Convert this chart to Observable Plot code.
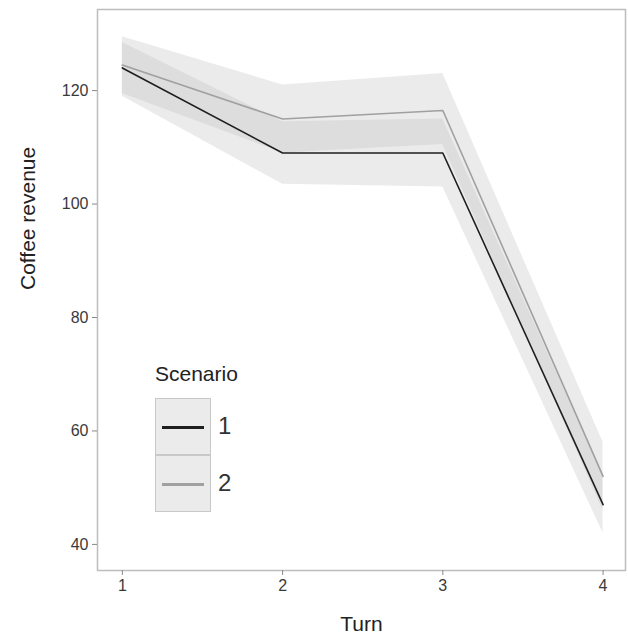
<!DOCTYPE html>
<html>
<head>
<meta charset="utf-8">
<script src="https://cdn.jsdelivr.net/npm/d3@7"></script>
<script src="https://cdn.jsdelivr.net/npm/@observablehq/plot@0.6"></script>
<style>
  html, body { margin: 0; padding: 0; background: #fff; }
  #wrap { position: relative; width: 628px; height: 641px; font-family: "Liberation Sans", Arial, sans-serif; }
  #legend { position: absolute; left: 153px; top: 362px; }
  #legend .title { font-size: 21px; color: #222; margin-left: 2px; }
  #legend .key { position: absolute; left: 2px; width: 56px; height: 57px; background: #ebebeb; border: 1px solid #c8c8c8; box-sizing: border-box; }
  #legend .lab { position: absolute; left: 65px; font-size: 24px; color: #333; }
</style>
</head>
<body>
<div id="wrap"></div>
<script>
const turns = [1, 2, 3, 4];
const scenarios = ["1", "2"];
const revenue1 = [124, 109, 109, 47];
const revenue2 = [124.5, 115, 116.5, 52];
const lower1 = [119, 103.5, 103, 42];
const upper1 = [128.5, 114.5, 115, 52];
const lower2 = [119.5, 109, 110.5, 46];
const upper2 = [129.5, 121, 123, 58];
const xTicks = [1, 2, 3, 4];
const yTicks = [40, 60, 80, 100, 120];
const colors = ["#1f1f1f", "#a0a0a0"];

const rows = [];
turns.forEach((t, i) => {
  rows.push({turn: t, scenario: scenarios[0], value: revenue1[i], lo: lower1[i], hi: upper1[i]});
  rows.push({turn: t, scenario: scenarios[1], value: revenue2[i], lo: lower2[i], hi: upper2[i]});
});

const chart = Plot.plot({
  width: 628,
  height: 641,
  marginLeft: 97,
  marginTop: 9,
  marginRight: 3,
  marginBottom: 71,
  style: {fontFamily: "Liberation Sans, Arial, sans-serif", background: "#fff"},
  x: {domain: [0.845, 4.14], ticks: xTicks, tickFormat: d => String(d), label: null, tickSize: 5},
  y: {domain: [35.4, 134.3], ticks: yTicks, label: null, tickSize: 5},
  color: {domain: scenarios, range: colors},
  marks: [
    Plot.areaY(rows, {x: "turn", y1: "lo", y2: "hi", z: "scenario", fill: "#bcbcbc", fillOpacity: 0.3}),
    Plot.line(rows, {x: "turn", y: "value", z: "scenario", stroke: "scenario", strokeWidth: 1.6}),
    Plot.frame({stroke: "#bdbdbd", strokeWidth: 1.5}),
    Plot.axisX({ticks: xTicks, tickFormat: d => String(d), tickSize: 5, stroke: "#888", fontSize: 16, fill: "#3a3a3a", tickPadding: 4, label: null}),
    Plot.axisY({ticks: yTicks, tickSize: 5, stroke: "#888", fontSize: 16, fill: "#3a3a3a", tickPadding: 4, label: null}),
    Plot.text(["Turn"], {frameAnchor: "bottom", dy: 60, fontSize: 21, fill: "#222"}),
    Plot.text(["Coffee revenue"], {frameAnchor: "left", dx: -69, rotate: -90, fontSize: 21, fill: "#222"})
  ]
});

const wrap = document.getElementById("wrap");
wrap.appendChild(chart);

const legend = document.createElement("div");
legend.id = "legend";
let html = `<div class="title">Scenario</div>`;
scenarios.forEach((s, i) => {
  const top = 36 + i * 57;
  html += `<div class="key" style="top:${top}px"><div style="position:absolute;left:6px;right:6px;top:27px;height:3px;background:${colors[i]}"></div></div>`;
  html += `<div class="lab" style="top:${top + 14}px">${s}</div>`;
});
legend.innerHTML = html;
wrap.appendChild(legend);
</script>
</body>
</html>
